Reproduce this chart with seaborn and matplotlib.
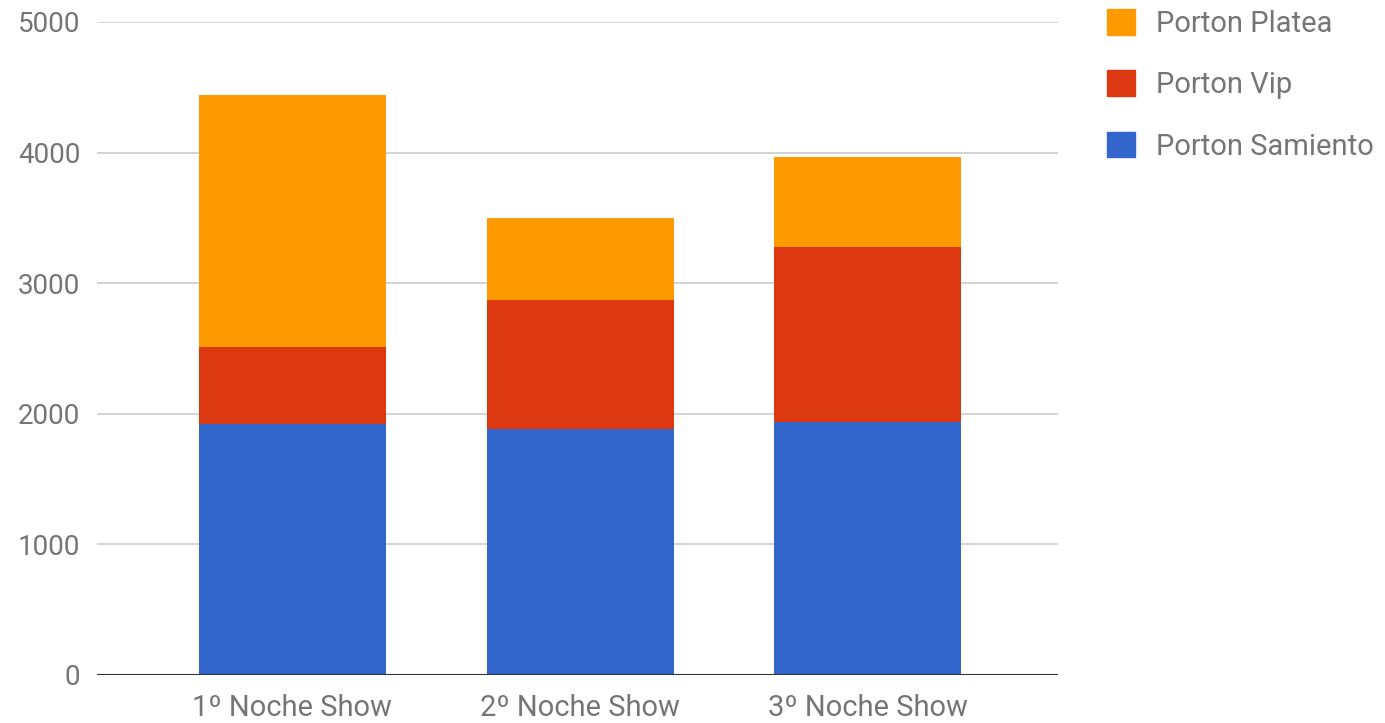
import matplotlib
matplotlib.use("Agg")
import matplotlib.pyplot as plt
import matplotlib.patches as mpatches
import numpy as np
import pandas as pd
import seaborn as sns

# values
shows = ["1º Noche Show", "2º Noche Show", "3º Noche Show"]
samiento = [1919, 1880, 1936]
vip = [593, 990, 1343]
platea = [1932, 627, 686]

series = ["Porton Samiento", "Porton Vip", "Porton Platea"]
colors = {"Porton Samiento": "#3366CC", "Porton Vip": "#DC3912", "Porton Platea": "#FF9900"}

df = pd.DataFrame({"show": shows, "Porton Samiento": samiento,
                   "Porton Vip": vip, "Porton Platea": platea})

sns.set_style("white")
plt.rcParams["font.family"] = ["Roboto", "DejaVu Sans"]
text_col = "#757575"

fig = plt.figure(figsize=(13.85, 7.23), dpi=100)
ax = fig.add_axes([0.070, 0.0664, 0.694, 0.9032])

bottom = np.zeros(len(shows))
for name in series:
    sns.barplot(data=df, x="show", y=name, color=colors[name], bottom=bottom,
                width=0.65, saturation=1, ax=ax, zorder=3, linewidth=0)
    bottom = bottom + df[name].to_numpy()

ax.set_xlim(-0.679, 2.661)
ax.set_ylim(0, 5000)
ax.set_yticks([0, 1000, 2000, 3000, 4000, 5000])
ax.yaxis.grid(True, color="#cccccc", linewidth=1.2, zorder=0)
ax.axhline(0, color="#333333", linewidth=1.5, zorder=4)
for s in ax.spines.values():
    s.set_visible(False)
ax.tick_params(axis="both", length=0, colors=text_col)
ax.tick_params(axis="y", pad=12, labelsize=20)
ax.tick_params(axis="x", pad=14, labelsize=21)
ax.set_xlabel("")
ax.set_ylabel("")

handles = [mpatches.Patch(color=colors[n], label=n) for n in reversed(series)]
fig.legend(handles=handles, loc="upper left", bbox_to_anchor=(1107 / 1385, 1 - 9 / 723),
           frameon=False, fontsize=21, labelcolor=text_col,
           borderpad=0, borderaxespad=0,
           handlelength=0.97, handleheight=0.97, handletextpad=0.72,
           labelspacing=1.12)

fig.savefig("out.png", dpi=100)
